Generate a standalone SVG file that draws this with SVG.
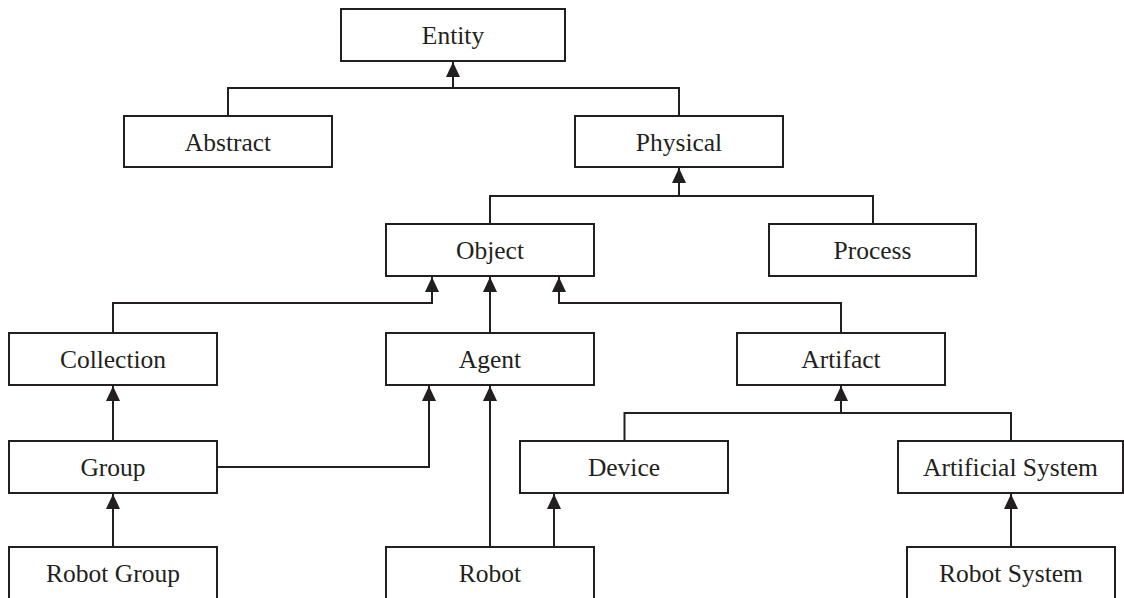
<svg xmlns="http://www.w3.org/2000/svg" width="1124" height="598" viewBox="0 0 1124 598">
<style>
.box{fill:#fff;stroke:#231f20;stroke-width:2}
.lbl{font-family:'Liberation Serif','Times New Roman',serif;font-size:25.5px;fill:#231f20;text-anchor:middle}
.con{fill:none;stroke:#231f20;stroke-width:2;stroke-linejoin:miter}
</style>
<defs>
<marker id="arr" markerUnits="userSpaceOnUse" markerWidth="15" markerHeight="14" refX="15" refY="7" orient="auto" viewBox="0 0 15 14">
<path d="M0,0 L15,7 L0,14 z" fill="#231f20"/>
</marker>
</defs>
<rect width="1124" height="598" fill="#fff"/>
<g id="connectors">
<path class="con" d="M228,116 V88 H679 V116"/>
<path class="con" d="M453,88 V62" marker-end="url(#arr)"/>
<path class="con" d="M490,224 V196 H873 V224"/>
<path class="con" d="M679,196 V168" marker-end="url(#arr)"/>
<path class="con" d="M113,333 V303 H432 V277" marker-end="url(#arr)"/>
<path class="con" d="M490,333 V277" marker-end="url(#arr)"/>
<path class="con" d="M841,333 V303 H559 V277" marker-end="url(#arr)"/>
<path class="con" d="M113,441 V386" marker-end="url(#arr)"/>
<path class="con" d="M217,467 H429 V386" marker-end="url(#arr)"/>
<path class="con" d="M490,547 V386" marker-end="url(#arr)"/>
<path class="con" d="M554,547 V494" marker-end="url(#arr)"/>
<path class="con" d="M624.5,441 V413 H1011 V441"/>
<path class="con" d="M841,413 V386" marker-end="url(#arr)"/>
<path class="con" d="M113,547 V494" marker-end="url(#arr)"/>
<path class="con" d="M1011,547 V494" marker-end="url(#arr)"/>
</g>
<g id="entity"><rect class="box" x="341" y="9" width="224" height="52"/><text class="lbl" x="453" y="44">Entity</text></g>
<g id="abstract"><rect class="box" x="124" y="116" width="208" height="51"/><text class="lbl" x="228" y="151">Abstract</text></g>
<g id="physical"><rect class="box" x="575" y="116" width="208" height="51"/><text class="lbl" x="679" y="151">Physical</text></g>
<g id="object"><rect class="box" x="386" y="224" width="208" height="52"/><text class="lbl" x="490" y="259">Object</text></g>
<g id="process"><rect class="box" x="769" y="224" width="207" height="52"/><text class="lbl" x="872.5" y="259">Process</text></g>
<g id="collection"><rect class="box" x="9" y="333" width="208" height="52"/><text class="lbl" x="113" y="368">Collection</text></g>
<g id="agent"><rect class="box" x="386" y="333" width="208" height="52"/><text class="lbl" x="490" y="368">Agent</text></g>
<g id="artifact"><rect class="box" x="737" y="333" width="208" height="52"/><text class="lbl" x="841" y="368">Artifact</text></g>
<g id="group"><rect class="box" x="9" y="441" width="208" height="52"/><text class="lbl" x="113" y="476">Group</text></g>
<g id="device"><rect class="box" x="520" y="441" width="208" height="52"/><text class="lbl" x="624" y="476">Device</text></g>
<g id="artificial-system"><rect class="box" x="898" y="441" width="225" height="52"/><text class="lbl" x="1010.5" y="476">Artificial System</text></g>
<g id="robot-group"><rect class="box" x="9" y="547" width="208" height="60"/><text class="lbl" x="113" y="582">Robot Group</text></g>
<g id="robot"><rect class="box" x="386" y="547" width="208" height="60"/><text class="lbl" x="490" y="582">Robot</text></g>
<g id="robot-system"><rect class="box" x="907" y="547" width="208" height="60"/><text class="lbl" x="1011" y="582">Robot System</text></g>
</svg>
